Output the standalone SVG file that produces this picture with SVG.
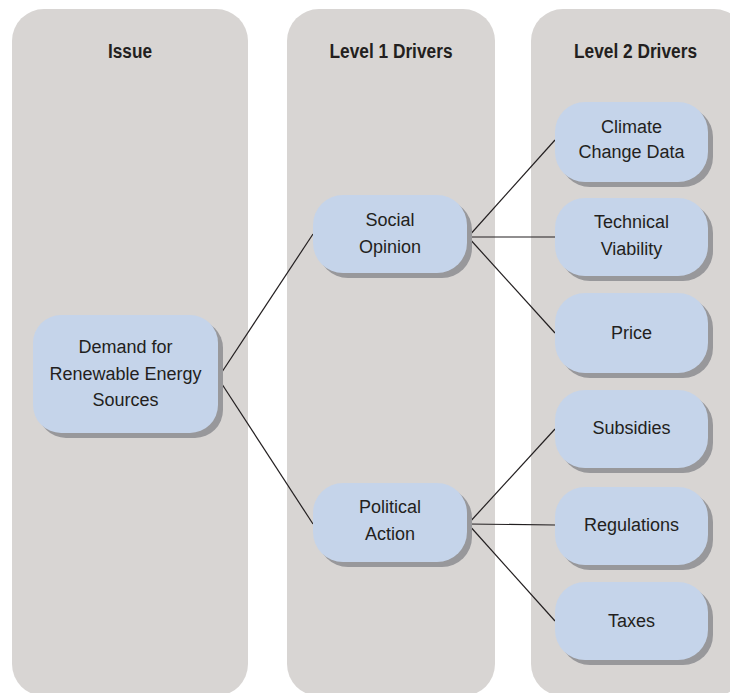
<svg xmlns="http://www.w3.org/2000/svg" width="730" height="693" viewBox="0 0 730 693">
<style>
.col{fill:#d8d5d3}
.hdr{font-family:"Liberation Sans",Arial,sans-serif;font-weight:bold;font-size:20px;fill:#231f20;text-anchor:middle}
.box{fill:#c5d4ea}
.sh{fill:#98989b}
.lbl{font-family:"Liberation Sans",Arial,sans-serif;font-size:18px;fill:#231f20;text-anchor:middle}
.ln{stroke:#231f20;stroke-width:1.2;fill:none}
</style>
<rect width="730" height="693" fill="#ffffff"/>
<g id="columns">
<rect class="col" x="12" y="9" width="236" height="687" rx="32"/>
<rect class="col" x="287" y="9" width="208" height="687" rx="32"/>
<rect class="col" x="531" y="9" width="215" height="687" rx="32"/>
<text class="hdr" x="130" y="58" textLength="44" lengthAdjust="spacingAndGlyphs">Issue</text>
<text class="hdr" x="391" y="58" textLength="123" lengthAdjust="spacingAndGlyphs">Level 1 Drivers</text>
<text class="hdr" x="635.5" y="58" textLength="123" lengthAdjust="spacingAndGlyphs">Level 2 Drivers</text>
</g>
<g id="connectors">
<line class="ln" x1="218" y1="378" x2="313" y2="234"/>
<line class="ln" x1="218" y1="378" x2="313" y2="524"/>
<line class="ln" x1="468" y1="237" x2="555" y2="140"/>
<line class="ln" x1="468" y1="237" x2="555" y2="237"/>
<line class="ln" x1="468" y1="237" x2="555" y2="333"/>
<line class="ln" x1="468" y1="524" x2="555" y2="429"/>
<line class="ln" x1="468" y1="524" x2="555" y2="525"/>
<line class="ln" x1="468" y1="524" x2="555" y2="621"/>
</g>
<g id="demand">
<rect class="sh" x="38" y="320" width="185" height="118" rx="28"/>
<rect class="box" x="33" y="315" width="185" height="118" rx="28"/>
<text class="lbl" x="125.5" y="353">Demand for</text>
<text class="lbl" x="125.5" y="380">Renewable Energy</text>
<text class="lbl" x="125.5" y="406">Sources</text>
</g>
<g id="social">
<rect class="sh" x="318" y="200" width="154" height="78" rx="30"/>
<rect class="box" x="313" y="195" width="154" height="78" rx="30"/>
<text class="lbl" x="390" y="226">Social</text>
<text class="lbl" x="390" y="253">Opinion</text>
</g>
<g id="political">
<rect class="sh" x="318" y="488" width="154" height="79" rx="30"/>
<rect class="box" x="313" y="483" width="154" height="79" rx="30"/>
<text class="lbl" x="390" y="513">Political</text>
<text class="lbl" x="390" y="540">Action</text>
</g>
<g id="climate">
<rect class="sh" x="560" y="107" width="153" height="80" rx="30"/>
<rect class="box" x="555" y="102" width="153" height="80" rx="30"/>
<text class="lbl" x="631.5" y="133">Climate</text>
<text class="lbl" x="631.5" y="158">Change Data</text>
</g>
<g id="technical">
<rect class="sh" x="560" y="203" width="153" height="78" rx="30"/>
<rect class="box" x="555" y="198" width="153" height="78" rx="30"/>
<text class="lbl" x="631.5" y="228">Technical</text>
<text class="lbl" x="631.5" y="255">Viability</text>
</g>
<g id="price">
<rect class="sh" x="560" y="298" width="153" height="80" rx="30"/>
<rect class="box" x="555" y="293" width="153" height="80" rx="30"/>
<text class="lbl" x="631.5" y="339">Price</text>
</g>
<g id="subsidies">
<rect class="sh" x="560" y="395" width="153" height="78" rx="30"/>
<rect class="box" x="555" y="390" width="153" height="78" rx="30"/>
<text class="lbl" x="631.5" y="434">Subsidies</text>
</g>
<g id="regulations">
<rect class="sh" x="560" y="492" width="153" height="78" rx="30"/>
<rect class="box" x="555" y="487" width="153" height="78" rx="30"/>
<text class="lbl" x="631.5" y="531">Regulations</text>
</g>
<g id="taxes">
<rect class="sh" x="560" y="587" width="153" height="78" rx="30"/>
<rect class="box" x="555" y="582" width="153" height="78" rx="30"/>
<text class="lbl" x="631.5" y="627">Taxes</text>
</g>
</svg>
